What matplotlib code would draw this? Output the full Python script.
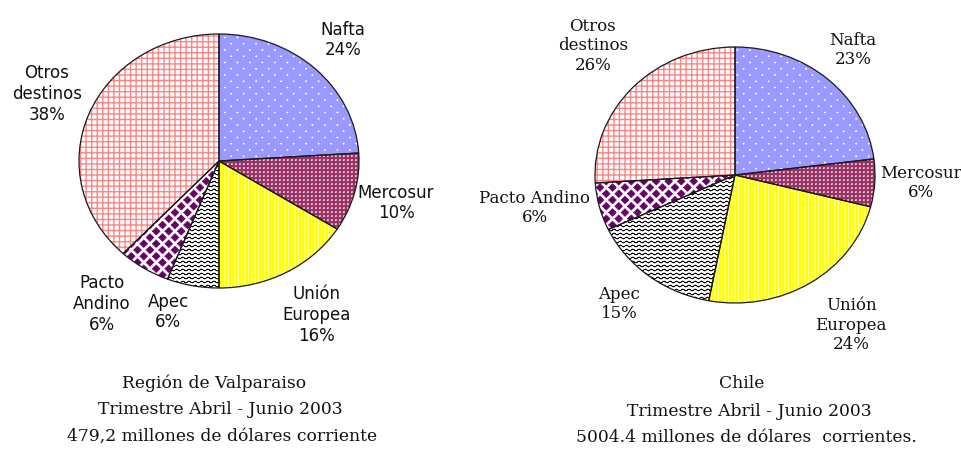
import numpy as np
import matplotlib
matplotlib.use("Agg")
import matplotlib.pyplot as plt
import matplotlib.hatch as mhatch
from matplotlib.path import Path

# Datos: destino de las exportaciones (%), trimestre abril - junio 2003
destinos = ["Nafta", "Mercosur", "Unión Europea", "Apec", "Pacto Andino", "Otros destinos"]
valparaiso = [24, 10, 16, 6, 6, 38]
chile = [23, 6, 24, 15, 6, 26]

etiquetas_valpo = ["Nafta\n24%", "Mercosur\n10%", "Unión\nEuropea\n16%",
                   "Apec\n6%", "Pacto\nAndino\n6%", "Otros\ndestinos\n38%"]
etiquetas_chile = ["Nafta\n23%", "Mercosur\n6%", "Unión\nEuropea\n24%",
                   "Apec\n15%", "Pacto Andino\n6%", "Otros\ndestinos\n26%"]

titulo_valpo = ["Región de Valparaiso", "Trimestre Abril - Junio 2003",
                "479,2 millones de dólares corriente"]
titulo_chile = ["Chile", "Trimestre Abril - Junio 2003",
                "5004.4 millones de dólares  corrientes."]

# estilo de cada porción (tramas tipo Excel)
rellenos = ["#9999FF", "#993366", "#FFFF00", "white", "white", "white"]
tramas = ["n", "m", "|||||", "w", "d", "+++"]
colores_trama = ["white", "white", "#FFFFC8", "black", "#660066", "#FF8585"]
grosor_trama = [0.5, 0.45, 0.7, 0.45, 0.4, 1.0]


# --- tramas propias (puntos, rombos, ondas) ---
mhatch._validate_hatch_pattern = lambda h: None


def rejilla(nx, ny, escalonado):
    centros = []
    for j in range(-1, ny + 2):
        dx = 0.5 / nx if (escalonado and j % 2) else 0.0
        for i in range(-1, nx + 2):
            centros.append((i / nx + dx, j / ny))
    return centros


def rombo(cx, cy, a, b):
    return np.array([(cx - a, cy), (cx, cy + b), (cx + a, cy), (cx, cy - b), (cx - a, cy)])


def rect(cx, cy, a, b):
    return np.array([(cx - a, cy - b), (cx + a, cy - b), (cx + a, cy + b),
                     (cx - a, cy + b), (cx - a, cy - b)])


class Motivo(mhatch.HatchPatternBase):
    clave = "?"

    def __init__(self, hatch, density):
        self.trazos = self.trazar() if self.clave in hatch else []
        self.num_vertices = sum(len(t) for t in self.trazos)

    def set_vertices_and_codes(self, vertices, codes):
        i = 0
        for t in self.trazos:
            n = len(t)
            vertices[i:i + n] = t
            codes[i] = Path.MOVETO
            codes[i + 1:i + n] = Path.LINETO
            i += n


class PuntosGrandes(Motivo):
    clave = "n"

    def trazar(self):
        return [rombo(x, y, 0.006, 0.006) for x, y in rejilla(8, 16, True)]


class PuntosFinos(Motivo):
    clave = "m"

    def trazar(self):
        return [rect(x, y, 0.005, 0.002) for x, y in rejilla(25, 25, False)]


class Rombos(Motivo):
    clave = "d"

    def trazar(self):
        return [rombo(x, y, 0.039, 0.039) for x, y in rejilla(8, 16, True)]


class Ondas(Motivo):
    clave = "w"

    def trazar(self):
        xs = np.linspace(-0.05, 1.05, 16 * 10 + 19)
        trazos = []
        for j in range(-1, 27):
            y = (j + 0.5) / 25 + 0.009 * np.sin(2 * np.pi * 16 * xs)
            ida = np.column_stack([xs, y])
            trazos.append(np.vstack([ida, ida[::-1]]))
        return trazos


mhatch._hatch_types += [PuntosGrandes, PuntosFinos, Rombos, Ondas]

W, H = 962, 449
fig = plt.figure(figsize=(W / 100, H / 100), dpi=100)


def pos(x, y):
    return x / W, 1 - y / H


def torta(valores, cx, cy, rx, ry):
    m = 1.3
    ax = fig.add_axes([(cx - m * rx) / W, 1 - (cy + m * ry) / H, 2 * m * rx / W, 2 * m * ry / H])
    cunas, _ = ax.pie(valores, colors=rellenos, startangle=90, counterclock=False,
                      wedgeprops=dict(linewidth=0))
    for c, h, hc, hlw in zip(cunas, tramas, colores_trama, grosor_trama):
        c.set_hatch(h)
        c.set_edgecolor(hc)
        c.set_linewidth(0)
        if hasattr(c, "set_hatch_linewidth"):
            c.set_hatch_linewidth(hlw)
    ax.pie(valores, startangle=90, counterclock=False,
           wedgeprops=dict(facecolor="none", edgecolor="#1a1a1a", linewidth=0.9))
    ax.set_aspect("auto")
    ax.set_xlim(-m, m)
    ax.set_ylim(-m, m)
    ax.axis("off")
    return ax


plt.rcParams["hatch.linewidth"] = 0.6

torta(valparaiso, 219, 161, 140, 127)
torta(chile, 735, 175, 140, 128)

# etiquetas
xy_valpo = [(343, 40), (396, 203), (317, 315), (168, 312), (102, 304), (47, 94)]
xy_chile = [(853, 50), (921, 183), (851, 325), (619, 304), (535, 208), (593, 46)]

for txt, (x, y) in zip(etiquetas_valpo, xy_valpo):
    fig.text(*pos(x, y), txt, ha="center", va="center", family="DejaVu Sans",
             fontsize=12, linespacing=1.2, color="#111111")
for txt, (x, y) in zip(etiquetas_chile, xy_chile):
    fig.text(*pos(x, y), txt, ha="center", va="center", family="DejaVu Serif",
             fontsize=12, linespacing=1.2, color="#111111")

for txt, (x, y) in zip(titulo_valpo, [(214, 383), (220, 410), (222, 436)]):
    fig.text(*pos(x, y), txt, ha="center", va="center", family="DejaVu Serif",
             fontsize=12.3, color="#111111")
for txt, (x, y) in zip(titulo_chile, [(742, 383), (749, 411), (746, 438)]):
    fig.text(*pos(x, y), txt, ha="center", va="center", family="DejaVu Serif",
             fontsize=12.3, color="#111111")

fig.savefig("out.png", dpi=100)
